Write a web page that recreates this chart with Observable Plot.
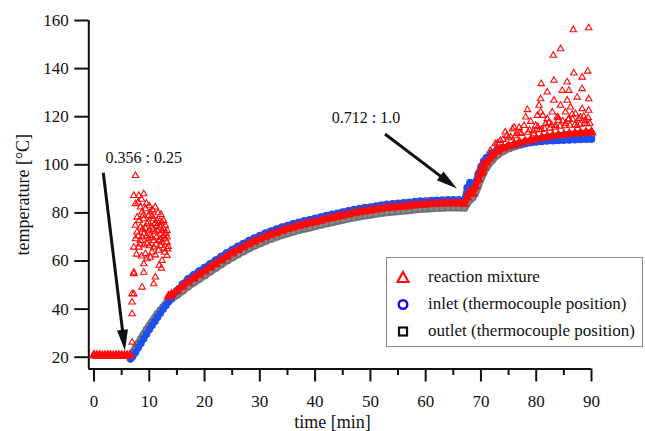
<!DOCTYPE html>
<html>
<head>
<meta charset="utf-8">
<script src="https://cdn.jsdelivr.net/npm/d3@7"></script>
<script src="https://cdn.jsdelivr.net/npm/@observablehq/plot@0.6"></script>
<style>
  html, body { margin: 0; padding: 0; background: white; }
  #wrap { position: relative; width: 645px; height: 431px; font-family: "Liberation Serif", "Times New Roman", serif; }
  #wrap svg text { font-family: "Liberation Serif", "Times New Roman", serif; }
  #legend { position: absolute; left: 386px; top: 257px; width: 257px; height: 90px; border: 1.5px solid #8c8c8c; background: white; box-sizing: border-box; }
  .lg { position: absolute; left: 0; height: 20px; display: flex; align-items: center; font-size: 17px; color: #111; white-space: nowrap; }
  .lg svg { margin-left: 9px; margin-right: 18px; }
</style>
</head>
<body>
<div id="wrap"></div>
<script>
// ---- reaction mixture (red triangles): main trace
const mixtureTime = [0,0.5,1,1.5,2,2.5,3,3.5,4,4.5,5,5.5,6,6.5,
  13.5,14,15,16,17,18,19,20,21,22,23,24,25,26,27,28,29,30,31,32,33,34,35,36,37,38,39,40,41,42,43,44,45,46,47,48,49,50,51,52,53,54,55,56,57,58,59,60,61,62,63,64,65,66,67,
  67.5,68,68.5,69,69.5,70,70.5,71,72,73,74,75,76,77,78,79,80,81,82,83,84,85,86,87,88,89,90];
const mixtureTemp = [20.8,20.6,20.7,20.5,20.6,20.7,20.6,20.5,20.6,20.7,20.6,20.5,20.6,20.8,
  45.3,46.0,47.6,49.4,51.2,52.8,54.3,55.8,57.4,58.9,60.4,61.9,63.3,64.6,65.8,67.0,68.1,69.1,70.1,71.0,71.8,72.6,73.3,74.0,74.6,75.2,75.7,76.3,76.8,77.4,77.9,78.4,78.9,79.4,79.9,80.3,80.7,81.0,81.4,81.8,82.1,82.3,82.5,82.7,82.9,83.2,83.4,83.5,83.7,83.8,83.9,84.0,84.0,84.0,83.8,
  86.5,89.0,88.0,91.0,94.0,96.5,99.0,101.0,103.8,105.7,106.9,107.8,108.5,109.2,109.7,110.2,110.8,111.3,111.7,112.0,112.3,112.5,112.8,113.0,113.2,113.4,113.6];
// ---- reaction mixture: scattered readings
const mixtureScatterTime = [6.9,6.9,6.9,6.9,7.2,7.5,7.2,8.1,9.0,7.5,8.4,8.7,9.3,10.2,7.8,9.0,9.9,10.8,11.4,12.3,12.6,7.5,8.4,9.6,10.5,11.4,12.0,12.9,13.2,7.8,9.0,10.2,11.1,12.0,12.6,13.2,7.5,8.4,9.9,10.8,11.7,12.3,13.2,7.2,8.1,9.6,10.8,12.0,9.3,10.5,11.7,13.2,9.6,12.3,9.0,7.2,9.0,11.1,8.7,10.8,7.2,11.1,
  8.0,8.6,9.5,10.0,10.6,11.6,12.1,8.9,9.8,10.4,11.0,11.9,12.6,13.0,8.2,8.8,9.3,10.0,10.7,11.5,12.3,12.9,8.0,8.7,9.5,10.4,11.3,12.0,13.4,8.3,9.1,10.0,11.2,12.6,7.7,8.6,10.2,11.1,12.8,13.3,11.8,12.2,
  86.7,89.5,83.1,84.4,89.3,86.8,88.3,83.2,80.9,85.6,82.0,84.7,85.9,88.3,80.8,83.2,85.6,87.4,89.5,80.5,84.4,86.2,88.3,78.4,80.8,82.9,85.3,87.1,89.5,78.1,80.2,82.0,83.8,85.9,88.0,76.0,77.8,79.9,81.7,83.5,85.3,87.4,89.2,74.7,74.4,76.6,75.7,73.5,72.9,71.7,71.7,72.6,69.6,70.2,76.9,79.0,81.2,84.0,86.5,88.9,
  73.0,74.0,75.0,76.2,77.3,78.5,79.5,80.6,81.5,82.5,83.4,84.3,85.2,86.1,87.0,87.9,88.8,89.7,75.4,77.0,78.8,80.3,82.3,84.0,85.8,87.7,89.4,79.6,81.0,82.8,84.8,86.6,88.6,70.4,71.2,72.2];
const mixtureScatterTemp = [26.2,38.0,42.9,46.4,55.3,95.5,87.2,87.2,87.9,83.8,82.4,80.3,81.7,80.3,78.2,77.5,78.9,77.5,76.8,76.1,76.8,74.8,74.1,75.5,74.1,74.8,74.1,74.8,72.7,72.0,71.3,70.6,72.0,71.3,70.6,69.9,69.2,68.5,69.2,68.5,68.5,67.8,67.8,65.7,65.7,67.1,65.7,66.4,63.0,63.7,64.4,62.3,60.9,60.2,58.8,54.7,55.3,53.3,49.1,50.5,46.3,82.4,
  84.5,85.6,84.0,82.9,81.2,80.0,79.3,79.0,76.2,78.5,75.6,76.5,73.5,71.5,76.8,73.2,73.6,72.8,73.2,72.5,72.8,69.2,70.4,70.0,70.4,69.6,70.0,68.8,66.0,67.0,66.6,66.3,66.9,65.3,62.8,62.0,61.5,62.5,63.6,65.0,58.2,57.0,
  156.1,156.9,145.5,148.2,138.9,138.1,136.4,135.1,133.7,134.4,130.2,130.9,130.9,131.6,127.4,126.8,126.8,128.1,127.4,124.7,124.7,124.0,123.3,122.9,121.9,121.9,121.9,121.2,122.6,119.8,120.5,119.1,119.8,119.1,119.8,115.6,116.3,116.3,117.0,116.3,117.0,116.3,117.0,112.2,113.6,112.9,114.9,110.1,107.3,105.9,102.5,108.7,97.5,100.5,115.5,118.0,120.5,119.5,121.0,118.5,
  109.0,110.5,111.2,112.0,113.0,113.5,114.0,114.5,115.0,115.2,115.6,116.0,116.2,116.4,116.6,116.8,117.0,117.2,111.5,113.2,114.4,115.8,117.5,118.5,118.8,119.2,119.6,112.8,114.6,116.5,118.2,118.9,120.0,97.0,102.0,104.5];
// ---- inlet (blue circles)
const inletTime = [6.6,7,7.5,8,8.5,9,9.5,10,10.5,11,11.5,12,12.5,13,13.5,14,15,16,17,18,19,20,21,22,23,24,25,26,27,28,29,30,31,32,33,34,35,36,37,38,39,40,41,42,43,44,45,46,47,48,49,50,51,52,53,54,55,56,57,58,59,60,61,62,63,64,65,66,67,
  67.5,68,68.5,69,69.5,70,70.5,71,72,73,74,75,76,77,78,79,80,81,82,83,84,85,86,87,88,89,90];
const inletTemp = [19.3,20.3,22.0,23.9,25.8,27.7,29.6,31.5,33.2,34.9,36.6,38.3,39.9,41.5,43.1,44.6,47.7,50.4,52.6,54.3,55.8,57.3,58.9,60.4,61.9,63.4,64.8,66.1,67.3,68.5,69.6,70.6,71.6,72.5,73.3,74.1,74.8,75.5,76.1,76.7,77.2,77.8,78.3,78.9,79.4,79.9,80.4,80.9,81.4,81.8,82.2,82.5,82.9,83.3,83.6,83.8,84.0,84.2,84.4,84.7,84.9,85.0,85.2,85.3,85.4,85.5,85.5,85.5,85.4,
  90.5,92.6,91.5,92.8,96.2,99.2,101.6,103.0,105.0,106.3,107.2,107.8,108.3,108.7,109.0,109.3,109.5,109.7,109.9,110.0,110.1,110.2,110.3,110.4,110.5,110.6,110.6];
// ---- outlet (grey squares)
const outletTime = [6.5,7,7.5,8,8.5,9,9.5,10,10.5,11,11.5,12,12.5,13,13.5,14,15,16,17,18,19,20,21,22,23,24,25,26,27,28,29,30,31,32,33,34,35,36,37,38,39,40,41,42,43,44,45,46,47,48,49,50,51,52,53,54,55,56,57,58,59,60,61,62,63,64,65,66,67,
  67.5,68,68.5,69,69.5,70,70.5,71,72,73,74,75,76,77,78,79,80,81,82,83,84,85,86,87,88,89,90];
const outletTemp = [20.3,21.8,23.7,25.6,27.5,29.4,31.3,33.0,34.7,36.3,37.9,39.4,40.8,42.1,43.4,44.3,45.9,47.6,49.4,51.0,52.5,54.0,55.6,57.1,58.6,60.1,61.5,62.8,64.0,65.2,66.3,67.3,68.3,69.2,70.0,70.8,71.5,72.2,72.8,73.4,73.9,74.5,75.0,75.6,76.1,76.6,77.1,77.6,78.1,78.5,78.9,79.2,79.6,80.0,80.3,80.5,80.7,80.9,81.1,81.4,81.6,81.7,81.9,82.0,82.1,82.2,82.2,82.2,82.1,
  84.0,85.5,86.5,88.5,91.5,94.5,97.0,99.0,102.0,104.2,105.7,106.8,107.6,108.3,108.9,109.4,109.9,110.3,110.6,110.9,111.1,111.3,111.5,111.7,111.9,112.0,112.2];
// ---- axes
const yTicks = [20,40,60,80,100,120,140,160];
const xTicks = [0,10,20,30,40,50,60,70,80,90];
const xMinorTicks = [5,15,25,35,45,55,65,75,85];
// ---- annotations
const annotationLabels = ["0.356 : 0.25", "0.712 : 1.0"];
const annotationLabelX = [2.1, 43.0];
const annotationLabelY = [102.7, 119.7];
const arrowX1 = [1.77, 52.73], arrowY1 = [96.5, 112.6], arrowX2 = [5.70, 65.74], arrowY2 = [22.5, 89.9];
const legendLabels = ["reaction mixture", "inlet (thermocouple position)", "outlet (thermocouple position)"];

const mixture = mixtureTime.map((t, i) => ({t, v: mixtureTemp[i], seg: t < 10 ? 0 : 1}));
const mixtureScatter = mixtureScatterTime.map((t, i) => ({t, v: mixtureScatterTemp[i]}));
const inlet = inletTime.map((t, i) => ({t, v: inletTemp[i]}));
const outlet = outletTime.map((t, i) => ({t, v: outletTemp[i]}));
const labels = annotationLabels.map((s, i) => ({s, x: annotationLabelX[i], y: annotationLabelY[i]}));
const arrows = arrowX1.map((x1, i) => ({x1, y1: arrowY1[i], x2: arrowX2[i], y2: arrowY2[i]}));

const RED = "#ff0a0a", BLUE = "#1f4ff0", GREY = "#868686";
const FONT = "'Liberation Serif', 'Times New Roman', serif";

function arrowMark(data) {
  return (index, scales) => {
    const g = d3.create("svg:g");
    for (const a of data) {
      const X1 = scales.x(a.x1), Y1 = scales.y(a.y1), X2 = scales.x(a.x2), Y2 = scales.y(a.y2);
      const dx = X2 - X1, dy = Y2 - Y1, L = Math.hypot(dx, dy), ux = dx / L, uy = dy / L;
      const hl = 21, hw = 5.5;
      const bx = X2 - ux * hl, by = Y2 - uy * hl;
      g.append("line").attr("x1", X1).attr("y1", Y1).attr("x2", bx + ux * 2).attr("y2", by + uy * 2)
        .attr("stroke", "#111").attr("stroke-width", 3);
      g.append("path").attr("d", `M${X2},${Y2}L${bx - uy * hw},${by + ux * hw}L${bx + uy * hw},${by - ux * hw}Z`).attr("fill", "#111");
    }
    return g.node();
  };
}

const chart = Plot.plot({
  width: 645, height: 431,
  marginLeft: 88.3, marginRight: 54, marginTop: 20, marginBottom: 62.5,
  style: {fontFamily: FONT, fontSize: "17px", color: "#111", background: "white"},
  x: {domain: [-0.94, 90]},
  y: {domain: [15.1, 160]},
  marks: [
    Plot.ruleX([-0.94], {stroke: "#111", strokeWidth: 2}),
    Plot.ruleY([15.1], {stroke: "#111", strokeWidth: 2}),
    Plot.axisY({ticks: yTicks, tickSize: 14, tickPadding: 6, strokeWidth: 2, label: null, fontSize: 17}),
    Plot.axisX({ticks: xTicks, tickSize: 13, tickPadding: 12.5, strokeWidth: 2, label: null, fontSize: 17}),
    Plot.axisX({ticks: xMinorTicks, tickSize: 6.5, strokeWidth: 2, tickFormat: () => "", label: null}),
    Plot.text(["temperature [°C]"], {frameAnchor: "left", dx: -65.3, rotate: -90, fontSize: 18, textAnchor: "middle"}),
    Plot.text(["time [min]"], {frameAnchor: "bottom", dx: -7.7, dy: 59, fontSize: 18, textAnchor: "middle"}),
    // outlet band
    Plot.line(outlet, {x: "t", y: "v", stroke: GREY, strokeWidth: 8, strokeLinejoin: "round"}),
    Plot.dot(outlet, {x: "t", y: "v", symbol: "square", r: 3.2, fill: GREY, stroke: "#6a6a6a", strokeWidth: 1}),
    // inlet band
    Plot.line(inlet, {x: "t", y: "v", stroke: BLUE, strokeWidth: 6, strokeLinejoin: "round"}),
    Plot.dot(inlet, {x: "t", y: "v", symbol: "circle", r: 3, fill: "none", stroke: BLUE, strokeWidth: 1.5}),
    // reaction mixture
    Plot.line(mixture, {x: "t", y: "v", z: "seg", stroke: RED, strokeWidth: 6, strokeLinejoin: "round"}),
    Plot.dot(mixture, {x: "t", y: "v", symbol: "triangle", r: 3, fill: "none", stroke: RED, strokeWidth: 1.5}),
    Plot.dot(mixtureScatter, {x: "t", y: "v", symbol: "triangle", r: 2.4, fill: "none", stroke: RED, strokeWidth: 1.1}),
    // annotations
    arrowMark(arrows),
    Plot.text(labels, {x: "x", y: "y", text: "s", textAnchor: "start", fontSize: 16, fill: "#111"})
  ]
});
const wrap = document.getElementById("wrap");
wrap.appendChild(chart);

const legend = document.createElement("div");
legend.id = "legend";
const syms = [
  `<svg width="14" height="14"><path d="M7,2 L12.5,12 L1.5,12 Z" fill="none" stroke="${RED}" stroke-width="2.2"/></svg>`,
  `<svg width="14" height="14"><circle cx="7" cy="7.5" r="4.3" fill="none" stroke="#1010e0" stroke-width="2.4"/></svg>`,
  `<svg width="14" height="14"><rect x="3" y="3.5" width="8" height="8" fill="none" stroke="#111" stroke-width="2.2"/></svg>`
];
const tops = [9, 36, 63];
legendLabels.forEach((s, i) => {
  const row = document.createElement("div");
  row.className = "lg";
  row.style.top = tops[i] + "px";
  row.innerHTML = syms[i] + `<span>${s}</span>`;
  legend.appendChild(row);
});
wrap.appendChild(legend);
</script>
</body>
</html>
